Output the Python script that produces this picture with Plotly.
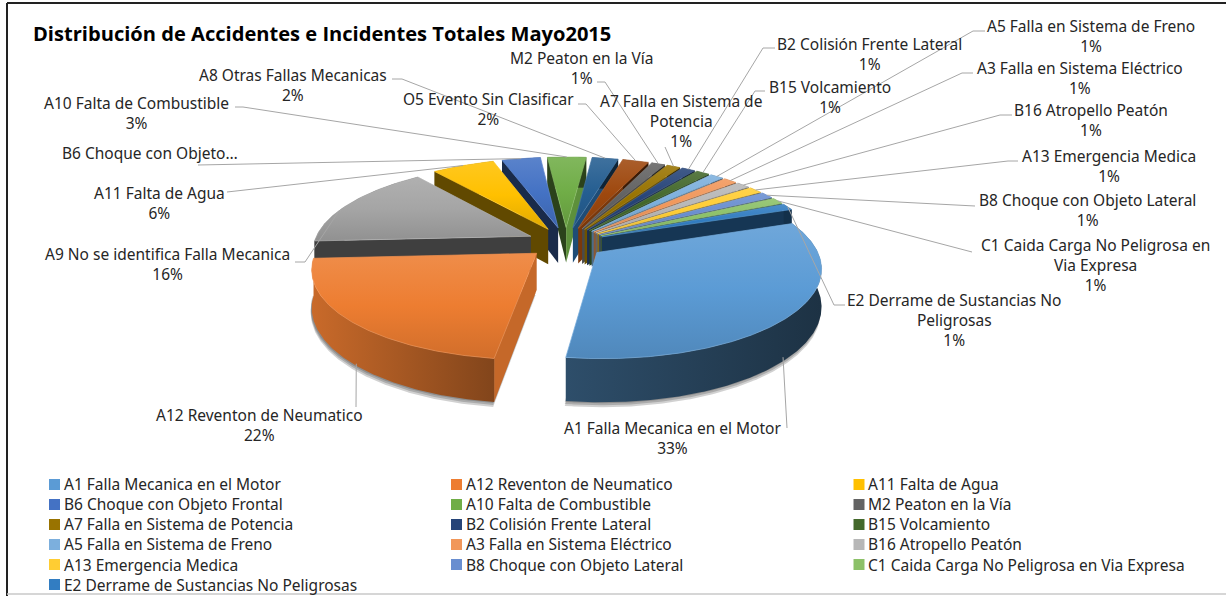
import numpy as np
import plotly.graph_objects as go

TITLE = "Distribución de Accidentes e Incidentes Totales Mayo2015"
CATEGORIES = ["A1 Falla Mecanica en el Motor", "A12 Reventon de Neumatico", "A9 No se identifica Falla Mecanica",
              "A11 Falta de Agua", "B6 Choque con Objeto Frontal", "A10 Falta de Combustible",
              "A8 Otras Fallas Mecanicas", "O5 Evento Sin Clasificar", "M2 Peaton en la Vía",
              "A7 Falla en Sistema de Potencia", "B2 Colisión Frente Lateral", "B15 Volcamiento",
              "A5 Falla en Sistema de Freno", "A3 Falla en Sistema Eléctrico", "B16 Atropello Peatón",
              "A13 Emergencia Medica", "B8 Choque con Objeto Lateral", "C1 Caida Carga No Peligrosa en Via Expresa",
              "E2 Derrame de Sustancias No Peligrosas"]
VALUES = [33, 22, 15.5, 5.5, 3.4, 3.4, 2.3, 2.3, 1.2, 1.2, 1.2, 1.2, 1.2, 1.2, 1.2, 1.2, 1.2, 1.2, 1.2]
COLORS = ["#5B9BD5", "#ED7D31", "#A5A5A5", "#FFC000", "#4472C4", "#70AD47", "#255E91", "#9E480E", "#636363",
          "#997300", "#264478", "#43682B", "#7CAFDD", "#F1975A", "#B7B7B7", "#FFCD33", "#698ED0", "#8CC168", "#327DC2"]
LABEL_TEXT = {
    0: (672, 428, ["A1 Falla Mecanica en el Motor", "33%"]),
    1: (259, 415, ["A12 Reventon de Neumatico", "22%"]),
    2: (167, 254, ["A9 No se identifica Falla Mecanica", "16%"]),
    3: (159, 193, ["A11 Falta de Agua", "6%"]),
    4: (150, 153, ["B6 Choque con Objeto…"]),
    5: (136, 103, ["A10 Falta de Combustible", "3%"]),
    6: (293, 75, ["A8 Otras Fallas Mecanicas", "2%"]),
    7: (488, 99, ["O5 Evento Sin Clasificar", "2%"]),
    8: (581, 58, ["M2 Peaton en la Vía", "1%"]),
    9: (681, 101, ["A7 Falla en Sistema de", "Potencia", "1%"]),
    10: (869, 44, ["B2 Colisión Frente Lateral", "1%"]),
    11: (830, 87, ["B15 Volcamiento", "1%"]),
    12: (1091, 26, ["A5 Falla en Sistema de Freno", "1%"]),
    13: (1080, 68, ["A3 Falla en Sistema Eléctrico", "1%"]),
    14: (1091, 110, ["B16 Atropello Peatón", "1%"]),
    15: (1109, 156, ["A13 Emergencia Medica", "1%"]),
    16: (1087, 200, ["B8 Choque con Objeto Lateral", "1%"]),
    17: (1095, 245, ["C1 Caida Carga No Peligrosa en", "Via Expresa", "1%"]),
    18: (954, 300, ["E2 Derrame de Sustancias No", "Peligrosas", "1%"]),
}
# leader routing: elbow points from the slice towards its label; (arc fraction, wall fraction) of the anchor
LEADER_ELBOWS = {
    0: [(787, 428)], 1: [(356, 407)], 2: [(305, 262), (295, 262)], 3: [(227, 192)], 4: [(198, 165)],
    5: [(243, 107), (235, 107)], 6: [(402, 79), (392, 79)], 7: [(586, 104), (578, 104)],
    8: [(605, 82), (597, 82)], 9: [(665, 147)], 10: [(763, 48), (775, 48)], 11: [(755, 91), (765, 91)],
    12: [(973, 31), (985, 31)], 13: [(962, 73), (973, 73)], 14: [(1000, 115), (1012, 115)],
    15: [(1008, 161), (1018, 161)], 16: [(965, 206), (975, 206)], 17: [(972, 252)], 18: [(834, 305), (845, 305)],
}
ANCHOR_TWEAK = {0: (.53, .9), 1: (.47, .95), 2: (.4, 0)}
WALL_SHADES = {0: (0.5, 0.32), 1: (0.85, 0.55)}
LEGEND_COLUMNS = [[0, 4, 9, 12, 15, 18], [1, 5, 10, 13, 16], [3, 8, 11, 14, 17]]
LEGEND_SWATCH_X = [54.5, 456.5, 859]
LEGEND_TEXT_X = [64, 466, 868]
LEGEND_TOP, LEGEND_STEP = 484.5, 20

FONT = "Noto Sans"
FSIZE = 15.5
CX, CY, RA, RB, EXPL, PERSP, DEPTH, START = 566, 242.6, 217, 86, 0.18, 0.157, 36, -20


def shade(color, f):
    r, g, b = [int(color[i:i + 2], 16) for i in (1, 3, 5)]
    if f <= 1:
        return f"rgb({r * f:.0f},{g * f:.0f},{b * f:.0f})"
    k = f - 1
    return f"rgb({r + (255 - r) * k:.0f},{g + (255 - g) * k:.0f},{b + (255 - b) * k:.0f})"


def project(u, v, down=0.0):
    s = 1 / (1 - PERSP * v)
    return CX + RA * u * s, CY + RB * v * s + down * DEPTH * s


shares = np.array(VALUES) / np.sum(VALUES) * 360
edges = START + np.concatenate([[0], np.cumsum(shares)])
mids = (edges[:-1] + edges[1:]) / 2


def slice_uv(i, angles):
    m = np.radians(mids[i])
    t = np.radians(angles)
    return EXPL * np.cos(m) + np.cos(t), EXPL * np.sin(m) + np.sin(t)


def poly(x, y, **kw):
    return go.Scatter(x=np.append(x, x[0]), y=np.append(y, y[0]), mode="lines", fill="toself",
                      hoverinfo="skip", showlegend=False, **kw)


fig = go.Figure()
order = np.argsort(np.sin(np.radians(mids)))
for i in order:
    col = COLORS[i]
    t = np.linspace(edges[i], edges[i + 1], max(3, int(shares[i] * 2)))
    u, v = slice_uv(i, t)
    au, av = EXPL * np.cos(np.radians(mids[i])), EXPL * np.sin(np.radians(mids[i]))
    xt, yt = project(u, v)
    xb, yb = project(u, v, 1)
    ax, ay = project(np.array([au]), np.array([av]))
    bx, by = project(np.array([au]), np.array([av]), 1)
    if shares[i] > 60 and np.sin(np.radians(mids[i])) > 0:
        for off in (5, 3, 1):
            fig.add_trace(poly(np.concatenate([ax, xb]) - 1, np.concatenate([by, yb]) + off,
                               line=dict(width=0), fillcolor="rgba(0,0,0,0.18)"))
    for tq, sign in ((edges[i], 1), (edges[i + 1], -1)):
        r = np.radians(tq)
        nx, nv = sign * np.sin(r), -sign * np.cos(r)
        if nv <= 0:
            continue
        f = 0.38 + 0.46 * max(nx, 0) ** 2
        eu, ev = slice_uv(i, np.array([tq]))
        ex, ey = project(eu, ev)
        fx, fy = project(eu, ev, 1)
        fig.add_trace(poly(np.array([ax[0], ex[0], fx[0], bx[0]]), np.array([ay[0], ey[0], fy[0], by[0]]),
                           line=dict(width=0), fillcolor=shade(col, f)))
    front = np.sin(np.radians(mids[i])) > 0
    w0, w1 = WALL_SHADES.get(i, (0.74 if front else 0.38, 0.38))
    fig.add_trace(poly(np.concatenate([xt, xb[::-1]]), np.concatenate([yt, yb[::-1]]), line=dict(width=0),
                       fillgradient=dict(type="horizontal", colorscale=[[0, shade(col, w0)], [1, shade(col, w1)]])))
    fig.add_trace(poly(np.concatenate([ax, xt]), np.concatenate([ay, yt]),
                       line=dict(width=0.7, color=shade(col, 1.15)),
                       fillgradient=dict(type="vertical",
                                         colorscale=[[0, shade(col, 0.88)], [0.5, col], [1, shade(col, 1.12)]])))

for i, elbows in LEADER_ELBOWS.items():
    frac, wall = ANCHOR_TWEAK.get(i, (0.5, 0))
    su, sv = slice_uv(i, np.array([edges[i] + frac * shares[i]]))
    sx, sy = project(su, sv, wall)
    fig.add_trace(go.Scatter(x=[sx[0]] + [p[0] for p in elbows], y=[sy[0]] + [p[1] for p in elbows], mode="lines",
                             line=dict(color="#A6A6A6", width=1), hoverinfo="skip", showlegend=False))

annotations = []
for i, (lx, ly, lines) in LABEL_TEXT.items():
    annotations.append(dict(x=lx, y=ly + (len(lines) - 1) * 9.8, text="<br>".join(lines), showarrow=False,
                            xanchor="center", yanchor="middle", align="center",
                            font=dict(family=FONT, size=FSIZE, color="#262626")))

for c, items in enumerate(LEGEND_COLUMNS):
    rows = LEGEND_TOP + LEGEND_STEP * np.arange(len(items))
    fig.add_trace(go.Scatter(x=[LEGEND_SWATCH_X[c]] * len(items), y=rows, mode="markers", hoverinfo="skip",
                             showlegend=False,
                             marker=dict(symbol="square", size=11, color=[COLORS[i] for i in items])))
    annotations.append(dict(x=LEGEND_TEXT_X[c] - 2, y=rows.mean(), text="<br>".join(CATEGORIES[i] for i in items),
                            showarrow=False, xanchor="left", yanchor="middle", align="left",
                            font=dict(family=FONT, size=FSIZE, color="#262626")))

annotations.append(dict(x=31, y=33, text=f"<b>{TITLE}</b>", showarrow=False, xanchor="left", yanchor="middle",
                        font=dict(family="Open Sans", size=20.1, color="black")))

fig.update_layout(
    width=1226, height=596, margin=dict(l=0, r=0, t=0, b=0), paper_bgcolor="white", plot_bgcolor="white",
    showlegend=False,
    xaxis=dict(range=[0, 1226], visible=False, fixedrange=True),
    yaxis=dict(range=[596, 0], visible=False, fixedrange=True),
    annotations=annotations,
    shapes=[
        dict(type="line", x0=7, x1=7, y0=3, y1=596, line=dict(color="#222222", width=2)),
        dict(type="line", x0=7, x1=1226, y0=3, y1=3, line=dict(color="#222222", width=2)),
        dict(type="line", x0=7, x1=1226, y0=594, y1=594, line=dict(color="#C8C8C8", width=1.5)),
    ],
)
fig.write_html("out.html", config=dict(displayModeBar=False),
               post_script="document.body.style.margin='0';document.body.style.overflow='hidden';")
